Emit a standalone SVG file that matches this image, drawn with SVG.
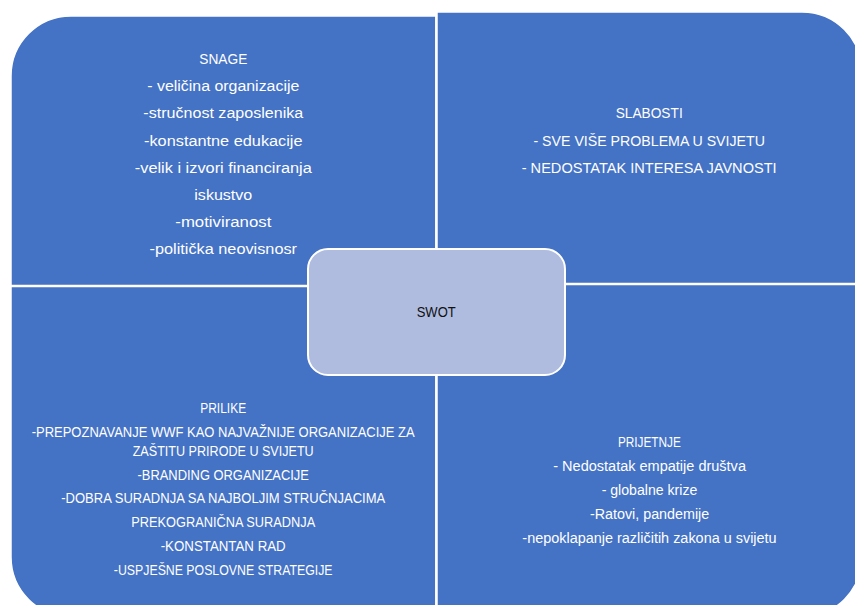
<svg xmlns="http://www.w3.org/2000/svg" width="855" height="605" viewBox="0 0 855 605">
<style>
.q{fill:#4472C4;stroke:#FFFFFF;stroke-width:1.5}
.c{fill:#AFBCDF;stroke:#FFFFFF;stroke-width:2}
.t{font-family:"Liberation Sans",Arial,sans-serif;fill:#FFFFFF;text-anchor:middle}
.a{font-size:15.5px}
.b{font-size:14px}
.k{font-family:"Liberation Sans",Arial,sans-serif;fill:#111111;text-anchor:middle;font-size:14px}
</style>
<rect width="855" height="605" fill="#FFFFFF"/>
<g id="connectors"></g>
<g id="snage">
<path class="q" d="M11,285.5 V76 A60,60 0 0 1 71,16 H435.8 V285.5 Z"/>
<g class="t a">
<text x="223.3" y="64" textLength="48" lengthAdjust="spacingAndGlyphs">SNAGE</text>
<text x="223.3" y="91.3" textLength="152" lengthAdjust="spacingAndGlyphs">- veličina organizacije</text>
<text x="223.3" y="118.4" textLength="160" lengthAdjust="spacingAndGlyphs">-stručnost zaposlenika</text>
<text x="223.3" y="145.5" textLength="158.5" lengthAdjust="spacingAndGlyphs">-konstantne edukacije</text>
<text x="223.3" y="172.6" textLength="177" lengthAdjust="spacingAndGlyphs">-velik i izvori financiranja</text>
<text x="223.3" y="199.7" textLength="58" lengthAdjust="spacingAndGlyphs">iskustvo</text>
<text x="223.3" y="226.8" textLength="96" lengthAdjust="spacingAndGlyphs">-motiviranost</text>
<text x="223.3" y="253.9" textLength="147.5" lengthAdjust="spacingAndGlyphs">-politička neovisnosr</text>
</g>
</g>
<g id="slabosti">
<path class="q" d="M437,12 H802 A60,60 0 0 1 862,72 V283.5 H437 Z"/>
<g class="t a">
<text x="649.2" y="118.3" textLength="67" lengthAdjust="spacingAndGlyphs">SLABOSTI</text>
<text x="649.2" y="145.5" textLength="231.5" lengthAdjust="spacingAndGlyphs">- SVE VIŠE PROBLEMA U SVIJETU</text>
<text x="649.2" y="172.5" textLength="255" lengthAdjust="spacingAndGlyphs">- NEDOSTATAK INTERESA JAVNOSTI</text>
</g>
</g>
<g id="prilike">
<path class="q" d="M11,286.5 H435.8 V617 H71 A60,60 0 0 1 11,557 Z"/>
<g class="t b">
<text x="223.2" y="413.3" textLength="46" lengthAdjust="spacingAndGlyphs">PRILIKE</text>
<text x="223.2" y="437.3" textLength="383" lengthAdjust="spacingAndGlyphs">-PREPOZNAVANJE WWF KAO NAJVAŽNIJE ORGANIZACIJE ZA</text>
<text x="223.2" y="455.7" textLength="181" lengthAdjust="spacingAndGlyphs">ZAŠTITU PRIRODE U SVIJETU</text>
<text x="223.2" y="479.5" textLength="171.3" lengthAdjust="spacingAndGlyphs">-BRANDING ORGANIZACIJE</text>
<text x="223.2" y="503.4" textLength="324" lengthAdjust="spacingAndGlyphs">-DOBRA SURADNJA SA NAJBOLJIM STRUČNJACIMA</text>
<text x="223.2" y="527.4" textLength="184" lengthAdjust="spacingAndGlyphs">PREKOGRANIČNA SURADNJA</text>
<text x="223.2" y="551.4" textLength="125" lengthAdjust="spacingAndGlyphs">-KONSTANTAN RAD</text>
<text x="223.2" y="575.4" textLength="218.7" lengthAdjust="spacingAndGlyphs">-USPJEŠNE POSLOVNE STRATEGIJE</text>
</g>
</g>
<g id="prijetnje">
<path class="q" d="M437,284.5 H862 V557 A60,60 0 0 1 802,617 H437 Z"/>
<g class="t b">
<text x="649.4" y="446.7" textLength="63" lengthAdjust="spacingAndGlyphs">PRIJETNJE</text>
<text x="649.6" y="470.8" textLength="192.7" lengthAdjust="spacingAndGlyphs">- Nedostatak empatije društva</text>
<text x="649.5" y="494.9" textLength="95.7" lengthAdjust="spacingAndGlyphs">- globalne krize</text>
<text x="649.6" y="519" textLength="119.3" lengthAdjust="spacingAndGlyphs">-Ratovi, pandemije</text>
<text x="649.5" y="543.1" textLength="254.3" lengthAdjust="spacingAndGlyphs">-nepoklapanje različitih zakona u svijetu</text>
</g>
</g>
<g id="swot">
<rect class="c" x="308" y="249" width="257" height="126" rx="20" ry="20"/>
<text class="k" x="436.2" y="317.3" textLength="39" lengthAdjust="spacingAndGlyphs">SWOT</text>
</g>
</svg>
